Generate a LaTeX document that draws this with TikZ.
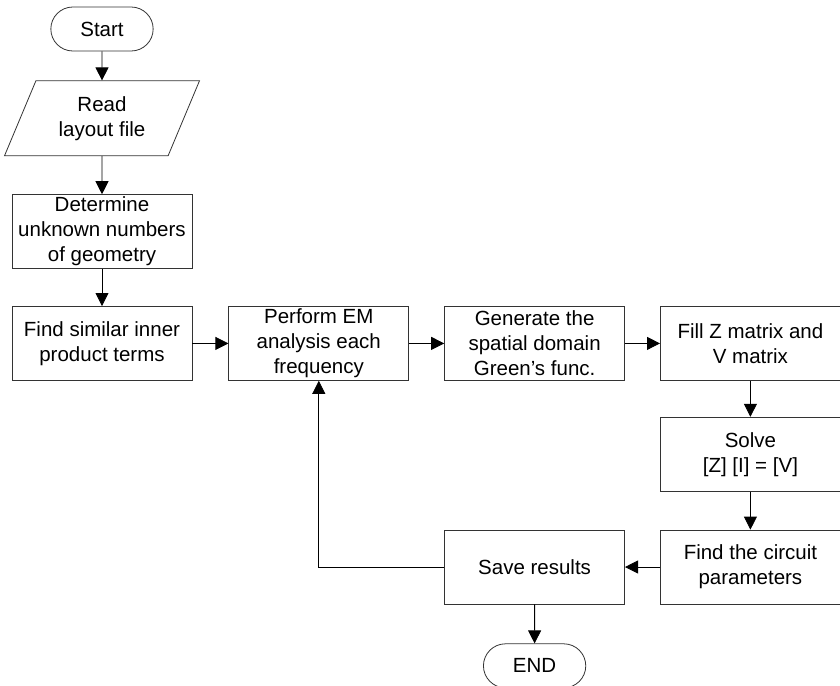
\documentclass[tikz,border=0pt]{standalone}
\usepackage{fontspec}
\setmainfont{Liberation Sans}
\usepackage{tikz}
\usetikzlibrary{arrows.meta,positioning,shapes.geometric,shapes.misc}
\tikzset{>/.tip={Triangle[length=13pt,width=13pt]}}
\tikzset{flowbox/.style={draw=black!80,line width=0.8pt,minimum width=180pt,minimum height=74pt,align=center,inner sep=2pt}}
\tikzset{termbox/.style={draw=black!80,line width=0.8pt,rounded rectangle,minimum width=109pt,minimum height=44pt}}
\tikzset{iobox/.style={draw=black!80,line width=0.8pt,trapezium,trapezium left angle=65,trapezium right angle=115,trapezium stretches=true,minimum width=195pt,minimum height=75pt,align=center,inner sep=0pt}}

\begin{document}
\begin{tikzpicture}[x=1pt,y=1pt,font=\fontsize{20.5}{25}\selectfont,line width=0.8pt]
      \useasboundingbox (0,0) rectangle (840,-685);
      \node[termbox](start) at (102,-29){Start};
      \node[iobox,below=29pt of start](read){Read\\layout file};
      \node[flowbox,below=38pt of read](geom){Determine\\unknown numbers\\of geometry};
      \node[flowbox,below=37pt of geom](inner){Find similar inner\\product terms};
      \node[flowbox,right=36pt of inner](perform){Perform EM\\analysis each\\frequency};
      \node[flowbox,right=35pt of perform](green){Generate the\\spatial domain\\Green’s func.};
      \node[flowbox,right=35pt of green](fillz){Fill Z matrix and\\V matrix};
      \node[flowbox,below=36pt of fillz](solve){Solve\\{[Z] [I] = [V]}};
      \node[flowbox,below=38pt of solve](circ){Find the circuit\\parameters};
      \node[flowbox,left=35pt of circ](save){Save results};
      \node[termbox,below=39pt of save](stop){END};

      \draw[->] (start) -- (read);
      \draw[->] (read) -- (geom);
      \draw[->] (geom) -- (inner);
      \draw[->] (inner) -- (perform);
      \draw[->] (perform) -- (green);
      \draw[->] (green) -- (fillz);
      \draw[->] (fillz) -- (solve);
      \draw[->] (solve) -- (circ);
      \draw[->] (circ) -- (save);
      \draw[->] (save) -- (stop);
      \draw[->] (save.west) -| (perform.south);
    \end{tikzpicture}
\end{document}
